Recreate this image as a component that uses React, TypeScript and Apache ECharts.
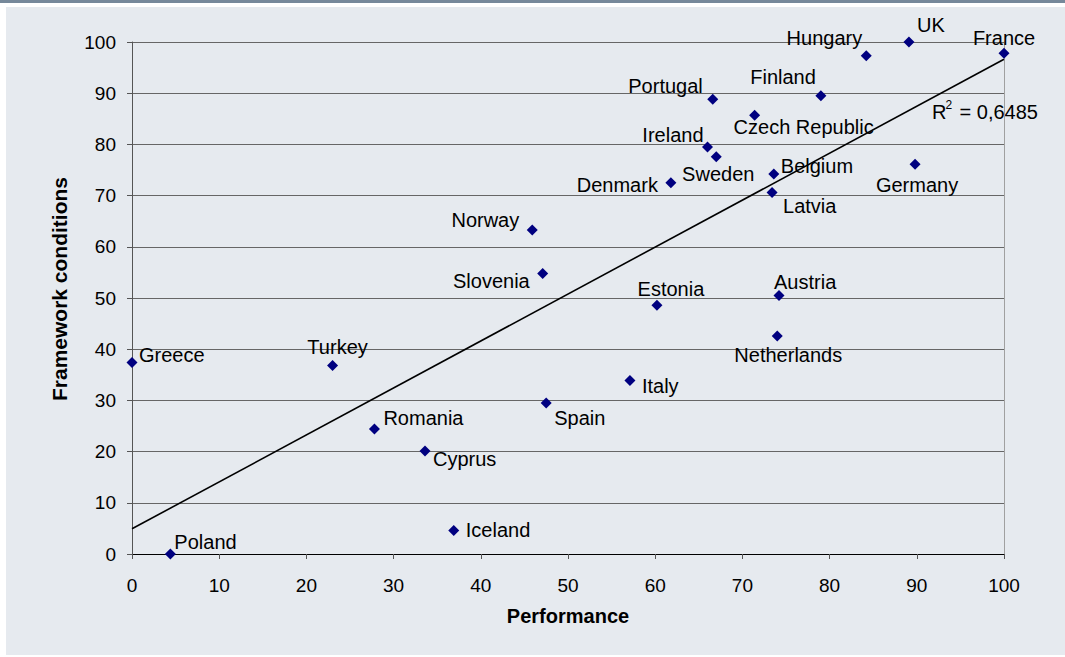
import React, { useEffect, useRef } from 'react';
import * as echarts from 'echarts';

const countries = [
  'UK', 'Hungary', 'France', 'Finland', 'Portugal', 'Czech Republic', 'Ireland', 'Sweden',
  'Belgium', 'Germany', 'Denmark', 'Latvia', 'Norway', 'Slovenia', 'Estonia', 'Austria',
  'Netherlands', 'Italy', 'Greece', 'Turkey', 'Romania', 'Cyprus', 'Iceland', 'Poland', 'Spain',
];
const performance = [
  89.1, 84.2, 100, 79.0, 66.6, 71.4, 66.0, 67.0,
  73.6, 89.8, 61.8, 73.4, 45.9, 47.1, 60.2, 74.2,
  74.0, 57.1, 0, 23.0, 27.8, 33.6, 36.9, 4.4, 47.5,
];
const framework = [
  100, 97.3, 97.8, 89.5, 88.8, 85.7, 79.5, 77.6,
  74.2, 76.1, 72.5, 70.6, 63.3, 54.8, 48.6, 50.5,
  42.6, 33.9, 37.4, 36.8, 24.4, 20.1, 4.6, 0, 29.5,
];
const r2Value = '0,6485';
const xTitle = 'Performance';
const yTitle = 'Framework conditions';

// label placement: [align, dx, dy] relative to marker centre
const labelPlacement: Record<string, [string, number, number]> = {
  UK: ['left', 8, -17],
  Hungary: ['right', -4, -18],
  France: ['center', 0, -15],
  Finland: ['right', -5, -19],
  Portugal: ['right', -10, -13],
  'Czech Republic': ['left', -21, 12],
  Ireland: ['right', -4, -12],
  Sweden: ['center', 2, 17],
  Belgium: ['left', 7, -8],
  Germany: ['center', 2, 21],
  Denmark: ['right', -13, 2],
  Latvia: ['left', 11, 13],
  Norway: ['right', -13, -10],
  Slovenia: ['right', -13, 8],
  Estonia: ['center', 14, -16],
  Austria: ['left', -5, -13],
  Netherlands: ['center', 11, 19],
  Italy: ['left', 12, 6],
  Greece: ['left', 7, -8],
  Turkey: ['center', 5, -19],
  Romania: ['left', 9, -11],
  Cyprus: ['left', 8, 8],
  Iceland: ['left', 12, 0],
  Poland: ['left', 4, -12],
  Spain: ['left', 8, 15],
};

const FONT = "'Liberation Sans', Arial, sans-serif";

function regression(xs: number[], ys: number[]) {
  const n = xs.length;
  const mx = xs.reduce((a, b) => a + b, 0) / n;
  const my = ys.reduce((a, b) => a + b, 0) / n;
  let sxy = 0;
  let sxx = 0;
  for (let i = 0; i < n; i++) {
    sxy += (xs[i] - mx) * (ys[i] - my);
    sxx += (xs[i] - mx) * (xs[i] - mx);
  }
  const slope = sxy / sxx;
  return { slope, intercept: my - slope * mx };
}

export default function App() {
  const ref = useRef<HTMLDivElement>(null);
  useEffect(() => {
    if (!ref.current) return;
    const chart = echarts.init(ref.current, undefined, { renderer: 'svg' });
    const { slope, intercept } = regression(performance, framework);
    const points = countries.map((name, i) => {
      const [align, dx, dy] = labelPlacement[name] || ['left', 8, 0];
      return {
        name,
        value: [performance[i], framework[i]],
        label: { align, offset: [dx, dy] },
      };
    });
    chart.setOption({
      animation: false,
      backgroundColor: '#ffffff',
      textStyle: { fontFamily: FONT },
      graphic: [
        { type: 'rect', z: -10, shape: { x: 0, y: 0, width: 1065, height: 3 }, style: { fill: '#76889a' } },
        { type: 'rect', z: -10, shape: { x: 6, y: 7, width: 1059, height: 648 }, style: { fill: '#e6eaef' } },
        { type: 'text', x: 932, y: 112, style: { text: 'R', font: `20px ${FONT}`, fill: '#000', verticalAlign: 'middle' } },
        { type: 'text', x: 945.5, y: 105, style: { text: '2', font: `12px ${FONT}`, fill: '#000', verticalAlign: 'middle' } },
        { type: 'text', x: 954, y: 112, style: { text: ' = ' + r2Value, font: `20px ${FONT}`, fill: '#000', verticalAlign: 'middle' } },
        {
          type: 'text',
          x: 59,
          y: 289,
          rotation: Math.PI / 2,
          style: { text: yTitle, font: `bold 21px ${FONT}`, fill: '#000', align: 'center', verticalAlign: 'middle' },
        },
      ],
      grid: { left: 132, right: 61, top: 42, bottom: 103, containLabel: false },
      xAxis: {
        type: 'value',
        min: 0,
        max: 100,
        interval: 10,
        name: xTitle,
        nameLocation: 'middle',
        nameGap: 52,
        nameTextStyle: { fontSize: 20, fontWeight: 'bold', color: '#000', fontFamily: FONT },
        axisLine: { show: true, onZero: false, lineStyle: { color: '#000', width: 1 } },
        axisTick: { show: true, length: 5, lineStyle: { color: '#555' } },
        axisLabel: { fontSize: 19, color: '#000', margin: 22, fontFamily: FONT },
        splitLine: { show: false },
      },
      yAxis: [
        {
          type: 'value',
          min: 0,
          max: 100,
          interval: 10,
          axisLine: { show: true, lineStyle: { color: '#555', width: 1 } },
          axisTick: { show: true, length: 5, lineStyle: { color: '#555' } },
          axisLabel: { fontSize: 19, color: '#000', margin: 16, fontFamily: FONT },
          splitLine: { show: true, lineStyle: { color: '#666', width: 1 } },
        },
        {
          type: 'value',
          position: 'right',
          min: 0,
          max: 100,
          interval: 10,
          axisLine: { show: true, lineStyle: { color: '#a0a0a0', width: 1 } },
          axisTick: { show: false },
          axisLabel: { show: false },
          splitLine: { show: false },
        },
      ],
      series: [
        {
          type: 'line',
          data: [
            [0, intercept],
            [100, intercept + slope * 100],
          ],
          symbol: 'none',
          silent: true,
          z: 2,
          lineStyle: { color: '#000', width: 1.6 },
        },
        {
          type: 'scatter',
          z: 3,
          symbol: 'diamond',
          symbolSize: 11,
          itemStyle: { color: '#000080', opacity: 1 },
          label: {
            show: true,
            position: 'inside',
            formatter: (p: any) => p.name,
            fontSize: 20,
            color: '#000',
            fontFamily: FONT,
            verticalAlign: 'middle',
          },
          data: points,
        },
      ],
    });
    return () => chart.dispose();
  }, []);
  return (
    <div
      ref={ref}
      style={{ position: 'fixed', left: 0, top: 0, width: 1065, height: 657 }}
    />
  );
}
